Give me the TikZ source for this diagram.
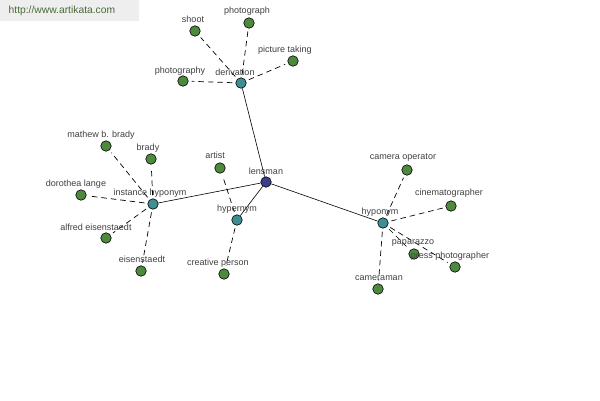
\documentclass[tikz,border=0pt]{standalone}
\usepackage{fontspec}
\setmainfont{Liberation Sans}
\usetikzlibrary{backgrounds}
\definecolor{leafgreen}{HTML}{4E8A3E}
\definecolor{relteal}{HTML}{3E8E92}
\definecolor{rootblue}{HTML}{3A3E8C}
\definecolor{txtgray}{HTML}{3F3F3F}
\definecolor{wmbg}{HTML}{EEEEEE}
\definecolor{wmtxt}{HTML}{4A6A3A}
\tikzset{
  dot/.style={circle,draw=black,line width=0.6pt,minimum size=10.5pt,inner sep=0pt},
  leaf/.style={dot,fill=leafgreen},
  rel/.style={dot,fill=relteal},
  root/.style={dot,fill=rootblue},
  lbl/.style={text=txtgray,font=\fontsize{9}{10}\selectfont,inner sep=0.5pt},
  solidedge/.style={draw=black,line width=0.6pt},
  dashedge/.style={draw=black,line width=0.7pt,dash pattern=on 5.5pt off 4pt,shorten <=3pt,shorten >=3pt}
}
\newcommand{\gnode}[6]{%
  \node[#1] (#2) at (#3,#4) {};
  \node[lbl] (#2-l) at (#5) {#6};}
\begin{document}
\begin{tikzpicture}[x=1pt,y=-1pt]
\useasboundingbox (0,0) rectangle (600,400);
\node[fill=wmbg,minimum width=139pt,minimum height=21pt,anchor=north west,inner sep=0pt] (wm) at (0,0) {};
\node[text=wmtxt,font=\fontsize{10.3}{11}\selectfont,anchor=west,inner sep=0pt] (wmt) at (8.5,11) {http://www.artikata.com};
% root and relations
\gnode{root}{lensman}{266}{182}{266,171}{lensman}
\gnode{rel}{derivation}{241}{83}{235,72}{derivation}
\gnode{rel}{insthypo}{153}{204}{150,193}{instance hyponym}
\gnode{rel}{hypernym}{237}{220}{237,209}{hypernym}
\gnode{rel}{hyponym}{383}{223}{380,212}{hyponym}
% derivation leaves
\gnode{leaf}{shoot}{195}{31}{193,19}{shoot}
\gnode{leaf}{photograph}{249}{23}{247,11}{photograph}
\gnode{leaf}{picturetaking}{293}{61}{285,50}{picture taking}
\gnode{leaf}{photography}{183}{81}{180,71}{photography}
% instance hyponym leaves
\gnode{leaf}{mathew}{106}{146}{101,135}{mathew b. brady}
\gnode{leaf}{brady}{151}{159}{148,148}{brady}
\gnode{leaf}{dorothea}{81}{195}{76,184}{dorothea lange}
\gnode{leaf}{alfred}{106}{238}{96,227}{alfred eisenstaedt}
\gnode{leaf}{eisenstaedt}{141}{271}{142,259}{eisenstaedt}
% hypernym leaves
\gnode{leaf}{artist}{220}{168}{215,155}{artist}
\gnode{leaf}{creative}{224}{274}{218,263}{creative person}
% hyponym leaves
\gnode{leaf}{cameraop}{407}{170}{403,158}{camera operator}
\gnode{leaf}{cinemato}{451}{206}{449,193}{cinematographer}
\gnode{leaf}{paparazzo}{414}{254}{413,243}{paparazzo}
\gnode{leaf}{pressphoto}{455}{267}{450,256}{press photographer}
\gnode{leaf}{cameraman}{378}{289}{379,278}{cameraman}
\begin{scope}[on background layer]
\draw[solidedge] (lensman) -- (derivation);
\draw[solidedge] (lensman) -- (insthypo);
\draw[solidedge] (lensman) -- (hypernym);
\draw[solidedge] (lensman) -- (hyponym);
\foreach \a in {shoot,photograph,picturetaking,photography}
  \draw[dashedge] (derivation) -- (\a);
\foreach \a in {mathew,brady,dorothea,alfred,eisenstaedt}
  \draw[dashedge] (insthypo) -- (\a);
\foreach \a in {artist,creative}
  \draw[dashedge] (hypernym) -- (\a);
\foreach \a in {cameraop,cinemato,paparazzo,pressphoto,cameraman}
  \draw[dashedge] (hyponym) -- (\a);
\end{scope}
\end{tikzpicture}
\end{document}
